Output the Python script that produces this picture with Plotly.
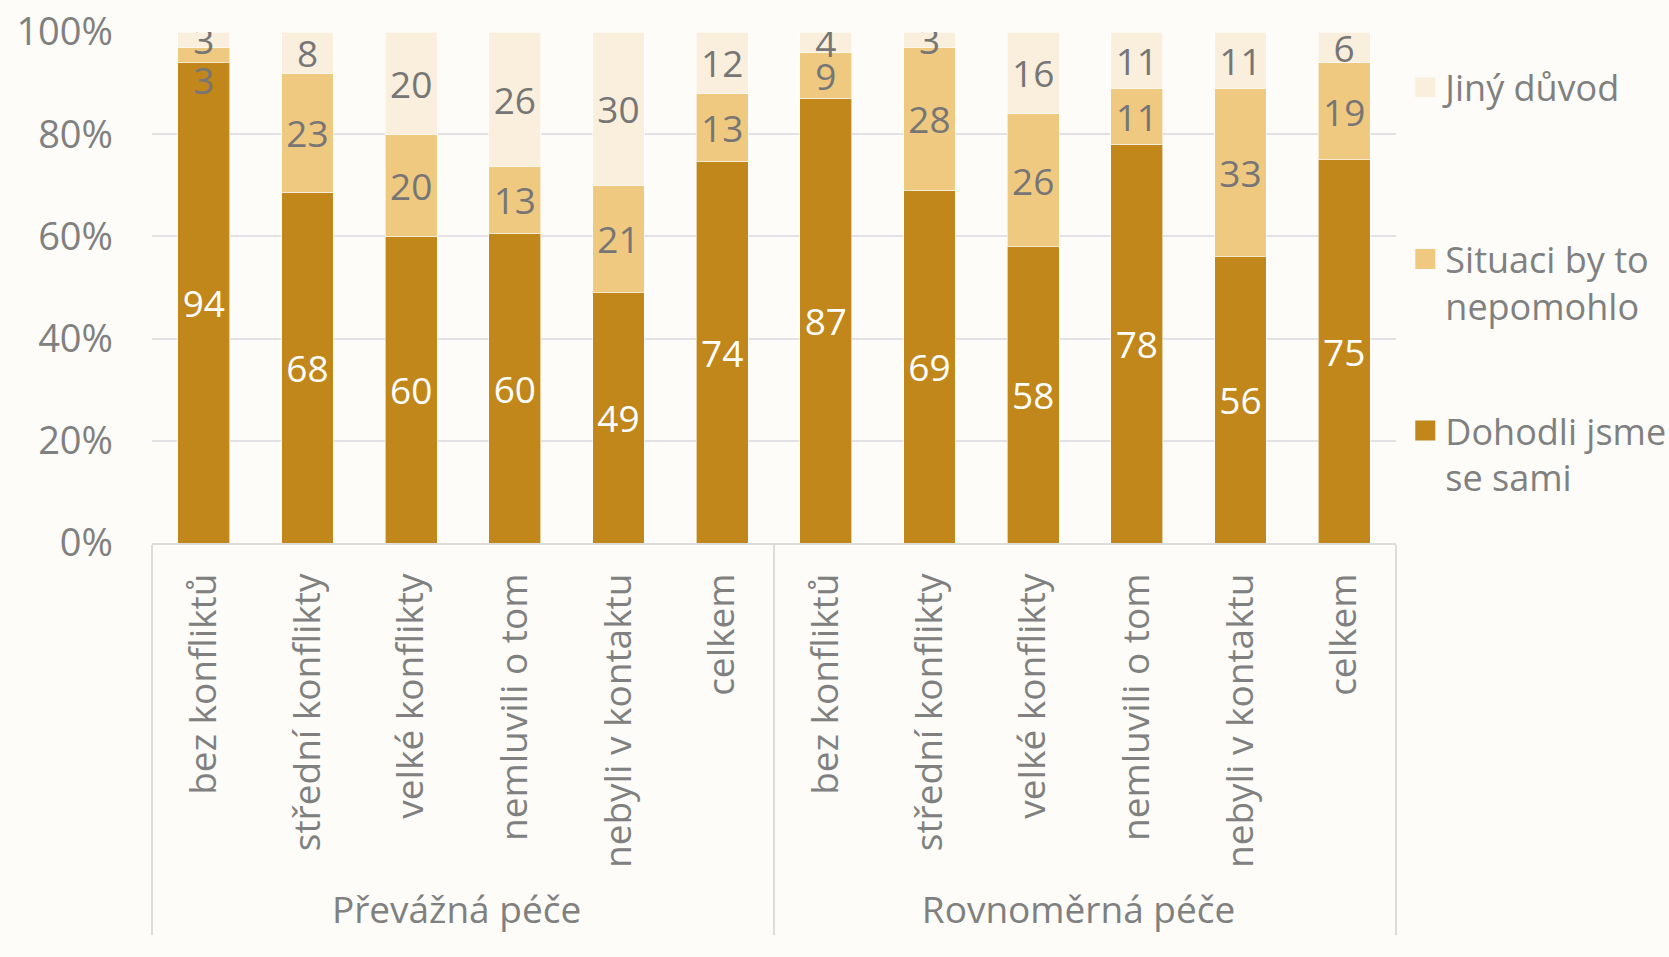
import plotly.graph_objects as go

groups = ["Převážná péče"] * 6 + ["Rovnoměrná péče"] * 6
categories = ["bez konfliktů", "střední konflikty", "velké konflikty",
              "nemluvili o tom", "nebyli v kontaktu", "celkem"] * 2

dohodli = [94, 68, 60, 60, 49, 74, 87, 69, 58, 78, 56, 75]
situaci = [3, 23, 20, 13, 21, 13, 9, 28, 26, 11, 33, 19]
jiny = [3, 8, 20, 26, 30, 12, 4, 3, 16, 11, 11, 6]

# labels shown on the segments; the tiny first "situaci" label is pushed down
# a line so it does not sit on top of the "jiny" label above it
dohodli_labels = [str(v) for v in dohodli]
situaci_labels = [str(v) for v in situaci]
situaci_labels[0] = "&nbsp;<br>" + situaci_labels[0]
jiny_labels = [str(v) for v in jiny]

series = [
    ("Dohodli jsme<br>se sami", dohodli, dohodli_labels, "#C1871A", "#FFFFFF", 3),
    ("Situaci by to<br>nepomohlo", situaci, situaci_labels, "#F0C981", "#767676", 2),
    ("Jiný důvod<br>&nbsp;", jiny, jiny_labels, "#FAEFDD", "#767676", 1),
]

FONT = "Open Sans"
GRAY = "#808080"
BG = "#FDFCF9"
FS = 37

fig = go.Figure()
for i, (name, vals, labels, color, txtcolor, rank) in enumerate(series):
    fig.add_trace(go.Bar(
        x=[groups, categories],
        y=vals,
        name=name,
        showlegend=False,
        marker=dict(color=color, line=dict(color="rgba(255,255,255,0.6)", width=1)),
        text=labels,
        texttemplate="%{text}",
        textposition="inside",
        insidetextanchor="middle",
        textangle=0,
        insidetextfont=dict(color=txtcolor, size=FS, family=FONT),
        hoverinfo="skip",
    ))
    # legend entry only (bigger square swatch than the bar legend gives)
    fig.add_trace(go.Scatter(
        x=[[groups[0]], [categories[0]]],
        y=[None],
        name=name,
        mode="markers",
        legendgroup=f"g{i}",
        legendrank=rank,
        marker=dict(symbol="square", size=16, color=color,
                    line=dict(color=color, width=4)),
        hoverinfo="skip",
    ))

fig.update_layout(
    barmode="stack",
    barnorm="percent",
    bargap=0.5,
    width=1669,
    height=957,
    margin=dict(l=152, r=273, t=32, b=414),
    paper_bgcolor=BG,
    plot_bgcolor=BG,
    font=dict(family=FONT, size=FS, color=GRAY),
    uniformtext=dict(minsize=FS, mode="show"),
    legend=dict(
        traceorder="grouped",
        tracegroupgap=75,
        valign="top",
        xref="container",
        yref="container",
        x=0.842,
        xanchor="left",
        y=0.94,
        yanchor="top",
        font=dict(size=36, color=GRAY),
        bgcolor="rgba(0,0,0,0)",
    ),
)

fig.update_yaxes(
    range=[0, 100],
    dtick=20,
    ticksuffix="%",
    showgrid=True,
    gridcolor="#E3E1E3",
    gridwidth=1.5,
    zeroline=False,
    automargin=False,
    ticklabelstandoff=38,
    tickfont=dict(size=38, color=GRAY),
)
fig.update_xaxes(
    range=[-0.5, len(categories) - 0.5],
    tickangle=-90,
    showline=True,
    linecolor="#DCDCDC",
    linewidth=1.5,
    showdividers=True,
    dividercolor="#DCDCDC",
    dividerwidth=1.5,
    automargin=False,
    ticklabelstandoff=14,
    tickfont=dict(size=FS, color=GRAY),
)

fig.write_html(
    "out.html",
    config={"displayModeBar": False},
    post_script="document.body.style.margin='0px';",
)
